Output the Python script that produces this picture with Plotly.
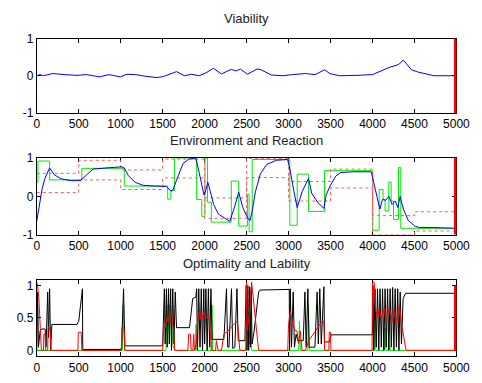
import plotly.graph_objects as go

# ---------------- data ----------------
# Panel 1: Viability
viab_x = [0, 40, 80, 190, 325, 480, 595, 745, 860, 995, 1075, 1180, 1280, 1435, 1510,
          1665, 1760, 1840, 1935, 2010, 2105, 2200, 2318, 2375, 2425, 2510, 2625, 2663,
          2797, 2930, 3045, 3200, 3315, 3430, 3490, 3605, 3815, 4000, 4195, 4310, 4368,
          4464, 4540, 4732, 4983]
viab_y = [0, 0.03, 0, 0.06, 0.03, 0.01, 0.03, -0.03, 0.03, -0.03, 0.04, 0.03, -0.01, -0.05, -0.02,
          0.11, 0, 0.04, 0, 0.07, 0.2, 0.05, 0.17, 0.13, 0.18, 0.04, 0.18, 0.17,
          0.02, 0, 0.03, 0.06, 0.03, 0.16, 0.06, 0, 0.01, 0.03, 0.22, 0.3, 0.42,
          0.16, 0.1, 0, 0]

# Panel 2: Environment (green steps)
env_x = [0, 15, 153, 537, 1043, 1560, 1598, 1640, 1905, 1966, 2004, 2035, 2080, 2318, 2406,
         2510, 2530, 2567, 3015, 3103, 3238, 3429, 4004, 4080, 4126, 4150, 4195, 4222, 4250,
         4310, 4337, 5000]
env_y = [0.37, 0.92, 0.43, 0.73, 0.27, -0.07, 0.15, 1.0, -0.08, -0.52, 1.0, -0.15, -0.67, 0.4, -0.77,
         0.05, -0.92, 0.96, -0.75, 0.58, -0.39, 0.67, -0.88, 0.18, -0.08, -0.38, 0.37, -0.12, -0.6,
         0.75, -0.83, -0.83]

# Panel 2: Reaction (blue)
react_x = [0, 38, 65, 96, 153, 211, 288, 403, 518, 594, 671, 824, 1015, 1043, 1092, 1169, 1264,
           1399, 1544, 1598, 1620, 1686, 1744, 1820, 1897, 1935, 1992, 2011, 2038, 2069, 2107,
           2165, 2241, 2299, 2356, 2406, 2452, 2502, 2540, 2567, 2605, 2663, 2739, 2854, 2988,
           3015, 3065, 3103, 3161, 3238, 3276, 3353, 3421, 3448, 3506, 3563, 3621, 3774, 3985,
           4023, 4061, 4088, 4119, 4157, 4195, 4234, 4272, 4302, 4329, 4368, 4425, 4502, 4559,
           4732, 4981]
react_y = [-0.64, -0.12, 0.21, 0.46, 0.74, 0.56, 0.46, 0.41, 0.41, 0.56, 0.71, 0.74, 0.77, 0.74,
           0.54, 0.37, 0.29, 0.27, 0.26, 0.14, 0.16, 0.54, 0.86, 0.98, 0.98, 0.62, 0.04, 0.14,
           0.37, 0.12, -0.21, -0.46, -0.58, -0.65, -0.28, 0.11, -0.27, -0.52, -0.63, -0.38, 0.12,
           0.58, 0.83, 0.94, 0.96, 0.72, 0.12, -0.29, 0.12, 0.47, 0.08, -0.17, -0.31, 0.04, 0.32,
           0.53, 0.62, 0.64, 0.64, 0.29, -0.12, -0.33, -0.08, -0.1, 0.0, -0.21, -0.12, -0.29, 0.0,
           -0.33, -0.62, -0.77, -0.81, -0.81, -0.83]

# Panel 2: tolerance band (red dotted steps)
band_x = [0, 500, 1000, 1500, 2000, 2500, 3000, 3500, 4000, 4500, 5000]
band_upper = [0.6, 0.94, 0.69, 0.97, -0.04, 0.99, 0.39, 0.71, -0.5, -0.4, -0.4]
band_lower = [0.1, 0.43, 0.18, 0.48, -0.57, 0.49, -0.12, 0.22, -1.0, -0.9, -0.9]

# Panel 3: Optimality (black)
opt_x = [0, 10, 20, 40, 60, 100, 110, 130, 140, 153, 165, 180, 480, 500, 544, 548, 1000, 1010,
         1034, 1050, 1500, 1510, 1520, 1530, 1545, 1555, 1570, 1580, 1595, 1605, 1620, 1635,
         1650, 1665, 1820, 1858, 1895, 1905, 1915, 1930, 1945, 1960, 1975, 1990, 2000, 2015,
         2030, 2045, 2060, 2075, 2090, 2230, 2260, 2275, 2290, 2320, 2335, 2360, 2385, 2400,
         2480, 2495, 2505, 2515, 2525, 2535, 2545, 2555, 2565, 2590, 2605, 2643, 2660, 3008,
         3012, 3020, 3035, 3055, 3070, 3090, 3110, 3175, 3195, 3210, 3230, 3245, 3314, 3340,
         3355, 3372, 3390, 3421, 3429, 3486, 3506, 4000, 4005, 4015, 4030, 4045, 4060, 4075,
         4090, 4105, 4120, 4135, 4150, 4165, 4180, 4195, 4210, 4225, 4240, 4255, 4270, 4285,
         4300, 4315, 4330, 4345, 4365, 4395, 5000]
opt_y = [0, 0.9, 0.05, 0.3, 0.33, 0.33, 0.05, 0.9, 0.2, 0.95, 0.0, 0.4, 0.4, 0.45, 0.95, 0.015,
         0.015, 0.05, 0.95, 0.07, 0.07, 0.5, 0.95, 0.1, 0.95, 0.05, 0.95, 0.1, 0.95, 0.0, 0.95,
         0.1, 0.9, 0.35, 0.35, 0.8, 0.82, 0.95, 0.0, 0.95, 0.05, 0.95, 0.0, 0.95, 0.1, 0.95,
         0.0, 0.95, 0.05, 0.95, 0.17, 0.17, 0.95, 0.05, 0.05, 0.95, 0.03, 0.05, 0.95, 0.15,
         0.15, 1.0, 0.0, 1.0, 0.0, 0.98, 0.05, 0.97, 0.1, 0.3, 0.5, 0.9, 0.93, 0.94,
         0.0, 0.95, 0.05, 0.9, 0.05, 0.25, 0.15, 0.15, 0.9, 0.05, 0.95, 0.05, 0.05, 0.9,
         0.1, 0.95, 0.1, 0.98, 0.13, 0.13, 0.24, 0.24, 1.0, 0.0, 0.95, 0.05, 0.95, 0.0,
         0.95, 0.05, 0.95, 0.0, 0.95, 0.05, 0.95, 0.0, 0.95, 0.05, 0.97, 0.0, 0.95, 0.05,
         0.95, 0.0, 0.9, 0.1, 0.8, 0.88, 0.88]

# Panel 3: Lability (red)
lab_x = [0, 10, 25, 40, 55, 80, 85, 100, 105, 130, 135, 150, 160, 170, 490, 495, 530, 537, 1010,
         1015, 1040, 1050, 1500, 1510, 1530, 1550, 1570, 1590, 1610, 1630, 1645, 1800, 1810,
         1830, 1840, 1860, 1870, 1880, 1900, 1920, 1940, 1960, 1980, 2000, 2020, 2040, 2060,
         2080, 2130, 2140, 2160, 2200, 2230, 2280, 2330, 2390, 2420, 2490, 2500, 2510, 2530,
         2545, 2560, 2643, 2990, 3000, 3020, 3050, 3080, 3100, 3120, 3140, 3160, 3200, 3240,
         3290, 3340, 3400, 3420, 3430, 3480, 3485, 3500, 3505, 3995, 4000, 4020, 4040, 4060,
         4080, 4100, 4120, 4140, 4160, 4180, 4200, 4220, 4240, 4260, 4280, 4300, 4320, 4340,
         4400, 5000]
lab_y = [1.05, 1.0, 0.8, 0.4, 0.0, 0.0, 0.25, 0.25, 0.0, 0.0, 0.35, 0.35, 0.3, 0.0, 0.0, 0.28,
         0.28, 0.0, 0.0, 0.35, 0.35, 0.0, 0.0, 0.4, 0.35, 0.5, 0.45, 0.6, 0.55, 0.3, 0.0, 0.0,
         0.25, 0.25, 0.0, 0.0, 0.25, 0.0, 0.1, 0.5, 0.6, 0.45, 0.55, 0.6, 0.5, 0.55, 0.45,
         0.0, 0.0, 0.15, 0.0, 0.0, 0.25, 0.3, 0.38, 0.45, 0.0, 0.0, 1.05, 0.3, 0.5,
         0.7, 1.05, 0.0, 0.0, 0.4, 0.6, 0.4, 0.3, 0.3, 0.1, 0.3, 0.0, 0.0, 0.15,
         0.25, 0.35, 0.45, 0.45, 0.0, 0.0, 0.28, 0.28, 0.0, 0.0, 1.05, 1.05, 0.6, 0.5,
         0.65, 0.5, 0.55, 0.65, 0.45, 0.55, 0.65, 0.55, 0.45, 0.6, 0.4, 0.55, 0.7, 0.45,
         0.0, 0.0]

# Panel 3: green spikes
g3_x = [0, 1020, 1030, 1045, 1540, 1550, 1560, 1580, 1600, 1620, 1640, 1890, 1897, 1905, 2080,
        2088, 2095, 2500, 2515, 2530, 2550, 2560, 3120, 3130, 3140, 3230, 3238, 3245, 4020,
        4030, 4040, 4140, 4150, 4160, 4190, 4200, 4210, 5000]
g3_y = [0, 0, 0.7, 0, 0, 0.7, 0.1, 0.7, 0.6, 0.1, 0, 0, 0.4, 0, 0,
        0.7, 0, 0, 0.6, 0.1, 0.6, 0, 0, 0.45, 0, 0, 0.7, 0, 0,
        0.7, 0, 0, 0.35, 0, 0, 0.5, 0, 0]

# current-time marker
t_now = 5000

x_ticks = [0, 500, 1000, 1500, 2000, 2500, 3000, 3500, 4000, 4500, 5000]
titles = ["Viability", "Environment and Reaction", "Optimality and Lability"]

# ---------------- figure ----------------
W, H = 482, 383
fig = go.Figure()

BLUE = "rgb(0,0,255)"
GREEN = "rgb(0,235,0)"
RED = "rgb(255,0,0)"

# Panel 1
fig.add_trace(go.Scatter(x=viab_x, y=viab_y, mode="lines", line=dict(color=BLUE, width=1),
                         xaxis="x", yaxis="y"))
fig.add_trace(go.Scatter(x=[t_now, t_now], y=[-1, 1], mode="lines", line=dict(color=RED, width=5),
                         xaxis="x", yaxis="y"))

# Panel 2
fig.add_trace(go.Scatter(x=env_x, y=env_y, mode="lines", line=dict(color=GREEN, width=1, shape="hv"),
                         xaxis="x2", yaxis="y2"))
fig.add_trace(go.Scatter(x=band_x, y=band_upper, mode="lines",
                         line=dict(color="rgb(255,90,90)", width=1, dash="dot", shape="hv"),
                         xaxis="x2", yaxis="y2"))
fig.add_trace(go.Scatter(x=band_x, y=band_lower, mode="lines",
                         line=dict(color="rgb(255,90,90)", width=1, dash="dot", shape="hv"),
                         xaxis="x2", yaxis="y2"))
fig.add_trace(go.Scatter(x=react_x, y=react_y, mode="lines", line=dict(color=BLUE, width=1),
                         xaxis="x2", yaxis="y2"))
fig.add_trace(go.Scatter(x=[t_now, t_now], y=[-1, 1], mode="lines", line=dict(color=RED, width=5),
                         xaxis="x2", yaxis="y2"))

# Panel 3
fig.add_trace(go.Scatter(x=g3_x, y=g3_y, mode="lines", line=dict(color=GREEN, width=1),
                         xaxis="x3", yaxis="y3"))
fig.add_trace(go.Scatter(x=opt_x, y=opt_y, mode="lines", line=dict(color="black", width=1),
                         xaxis="x3", yaxis="y3"))
fig.add_trace(go.Scatter(x=lab_x, y=lab_y, mode="lines", line=dict(color=RED, width=1),
                         xaxis="x3", yaxis="y3"))
fig.add_trace(go.Scatter(x=[t_now, t_now], y=[0, 1], mode="lines", line=dict(color=RED, width=5),
                         xaxis="x3", yaxis="y3"))

# Geometry (pixel positions converted to paper fractions)
left, right = 35, 470
panels = [(32.7, 110.0), (156.7, 236.5), (283.0, 362.5)]
xdom = [left / W, right / W]


def ydom(top, bot):
    return [1 - bot / H, 1 - top / H]


tick_font = dict(family="Liberation Sans, Arial, sans-serif", size=12, color="black")
common = dict(showline=True, linecolor="black", linewidth=1, mirror="ticks", ticks="inside",
              ticklen=4, tickcolor="black", showgrid=False, zeroline=False, tickfont=tick_font,
              layer="below traces", ticklabeloverflow="allow")

layout = dict(width=W, height=H, margin=dict(l=0, r=0, t=0, b=0),
              paper_bgcolor="white", plot_bgcolor="white", showlegend=False)

yranges = [[-1, 1], [-1, 1], [-0.09, 1.09]]
yticks = [[-1, 0, 1], [-1, 0, 1], [0, 0.5, 1]]
for i, (top, bot) in enumerate(panels):
    sx = "" if i == 0 else str(i + 1)
    layout["xaxis" + sx] = dict(domain=xdom, anchor="y" + sx, range=[0, 5000],
                                tickvals=x_ticks, ticktext=[str(v) for v in x_ticks], **common)
    layout["yaxis" + sx] = dict(domain=ydom(top, bot), anchor="x" + sx, range=yranges[i],
                                tickvals=yticks[i], ticktext=[("%g" % v) for v in yticks[i]],
                                **common)

fig.update_layout(**layout)

title_y = [12, 139, 266]
for t, ty in zip(titles, title_y):
    fig.add_annotation(text=t, x=(left + right) / 2 / W, y=1 - ty / H, xref="paper", yref="paper",
                       showarrow=False, xanchor="center", yanchor="middle",
                       font=dict(family="Liberation Sans, Arial, sans-serif", size=13, color="#222"))

fig.write_html("out.html")
